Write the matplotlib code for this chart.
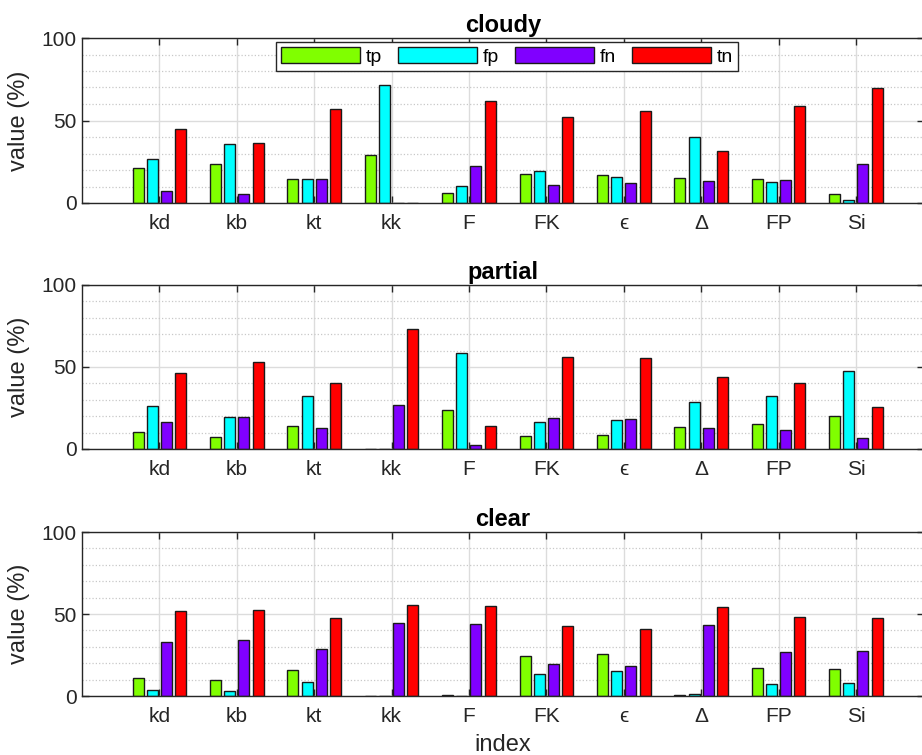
import numpy as np
import matplotlib
matplotlib.use("Agg")
import matplotlib.pyplot as plt
from matplotlib.ticker import MultipleLocator

plt.rcParams['font.family'] = ['Liberation Sans', 'DejaVu Sans']

categories = ['kd', 'kb', 'kt', 'kk', 'F', 'FK', 'ϵ', 'Δ', 'FP', 'Si']
series_names = ['tp', 'fp', 'fn', 'tn']
series_colors = ['#80FF00', '#00FFFF', '#8000FF', '#FF0000']

cloudy_tp = [21.3, 23.5, 14.4, 28.8, 6.1, 17.8, 16.8, 15.4, 14.8, 5.3]
cloudy_fp = [26.8, 35.7, 14.4, 71.6, 10.1, 19.3, 16.0, 40.2, 12.6, 2.0]
cloudy_fn = [7.5, 5.5, 14.4, 0.0, 22.7, 11.0, 12.0, 13.4, 13.8, 23.9]
cloudy_tn = [45.0, 36.1, 56.8, 0.0, 61.9, 52.3, 55.8, 31.6, 58.8, 69.6]

partial_tp = [10.4, 7.3, 13.8, 0.0, 24.0, 7.9, 8.3, 13.6, 15.0, 20.1]
partial_fp = [26.2, 19.7, 32.5, 0.0, 58.3, 16.7, 17.5, 28.7, 32.3, 47.6]
partial_fn = [16.3, 19.5, 13.0, 27.0, 2.4, 18.7, 18.1, 13.0, 11.8, 6.5]
partial_tn = [46.5, 53.0, 40.2, 73.2, 14.2, 56.1, 55.3, 44.1, 40.4, 25.4]

clear_tp = [10.8, 10.0, 15.7, 0.0, 0.8, 24.6, 25.8, 0.6, 16.9, 16.5]
clear_fp = [3.7, 3.3, 8.5, 0.0, 0.0, 13.2, 15.0, 1.4, 7.5, 7.9]
clear_fn = [32.9, 34.1, 28.5, 44.3, 43.7, 19.5, 18.1, 43.5, 27.0, 27.2]
clear_tn = [51.8, 52.4, 47.4, 55.7, 54.7, 42.5, 40.7, 54.1, 48.0, 47.8]

panels = [
    ('cloudy', [cloudy_tp, cloudy_fp, cloudy_fn, cloudy_tn]),
    ('partial', [partial_tp, partial_fp, partial_fn, partial_tn]),
    ('clear', [clear_tp, clear_fp, clear_fn, clear_tn]),
]

W, H = 922, 755
fig = plt.figure(figsize=(W / 100, H / 100), dpi=100)

# axes boxes in pixels: (top, bottom)
boxes = [(38, 203), (285, 449), (532, 696)]
left_px, right_px = 82, 924

x = np.arange(1, len(categories) + 1)
offsets = [-0.275, -0.09, 0.09, 0.275]
bar_w = 0.142
edge = '#262626'

axes = []
for (title, series), (top, bot) in zip(panels, boxes):
    ax = fig.add_axes([left_px / W, 1 - bot / H, (right_px - left_px) / W, (bot - top) / H])
    axes.append(ax)
    for vals, off, col, name in zip(series, offsets, series_colors, series_names):
        ax.bar(x + off, vals, width=bar_w, color=col, edgecolor='#1a1a1a',
               linewidth=1.0, label=name, zorder=2)
    ax.set_xlim(0, 10.88)
    ax.set_ylim(0, 100)
    ax.set_xticks(x)
    ax.set_xticklabels(categories)
    ax.set_yticks([0, 50, 100])
    ax.yaxis.set_minor_locator(MultipleLocator(10))
    ax.set_axisbelow(True)
    ax.grid(True, which='major', color='#dcdcdc', linewidth=1.0, linestyle='-')
    ax.grid(True, which='minor', axis='y', color='#c8c8c8', linewidth=0.9, linestyle=':')
    ax.tick_params(axis='both', which='major', direction='in', length=5, width=1,
                   color=edge, labelsize=15, labelcolor='#262626', top=True, right=True)
    ax.tick_params(axis='x', pad=8)
    ax.tick_params(axis='y', pad=4)
    ax.tick_params(which='minor', length=0)
    for s in ax.spines.values():
        s.set_color(edge)
        s.set_linewidth(1.0)
    ax.set_ylabel('value (%)', fontsize=17, color='#262626', labelpad=8)
    ax.set_title(title, fontsize=17, fontweight='bold', pad=4)

axes[-1].set_xlabel('index', fontsize=17, color='#262626', labelpad=6)

leg = axes[0].legend(ncol=4, loc='upper center',
                     bbox_to_anchor=((507 - left_px) / (right_px - left_px), (203 - 42) / 165),
                     borderaxespad=0, fontsize=14, handlelength=4.06, handleheight=0.93,
                     handletextpad=0.31, columnspacing=0.8, borderpad=0.25,
                     fancybox=False, framealpha=1, edgecolor='#262626')
leg.get_frame().set_linewidth(1.0)

fig.savefig('out.png', dpi=100)
